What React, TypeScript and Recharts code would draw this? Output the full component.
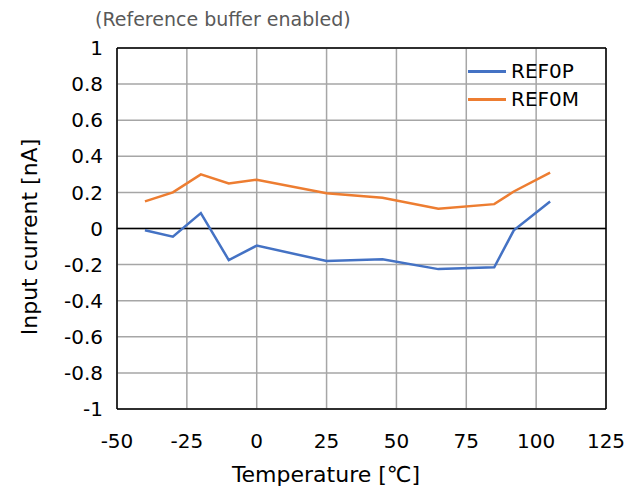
import React from "react";
import {
  LineChart,
  Line,
  XAxis,
  YAxis,
  CartesianGrid,
  ReferenceLine,
} from "recharts";

const temps = [-40, -30, -20, -10, 0, 25, 45, 65, 85, 92, 105];
const ref0p = [-0.01, -0.045, 0.085, -0.175, -0.095, -0.18, -0.17, -0.225, -0.215, -0.01, 0.15];
const ref0m = [0.15, 0.2, 0.3, 0.25, 0.27, 0.195, 0.17, 0.11, 0.135, 0.205, 0.31];

const xTicks = [-50, -25, 0, 25, 50, 75, 100, 125];
const yTicks = [-1, -0.8, -0.6, -0.4, -0.2, 0, 0.2, 0.4, 0.6, 0.8, 1];

const data = temps.map((t, i) => ({ t, REF0P: ref0p[i], REF0M: ref0m[i] }));

const FONT = "'DejaVu Sans', Verdana, sans-serif";
const BLUE = "#4472C4";
const ORANGE = "#ED7D31";

const series = [
  { name: "REF0P", color: BLUE },
  { name: "REF0M", color: ORANGE },
];

// legend sits inside the plot, top right
const LegendBox = () => (
  <div
    style={{
      position: "absolute",
      left: 468,
      top: 57,
      fontFamily: FONT,
      fontSize: 20,
      color: "#000",
      lineHeight: "28px",
    }}
  >
    {series.map((s) => (
      <div key={s.name} style={{ display: "flex", alignItems: "center" }}>
        <span style={{ display: "inline-block", width: 38, height: 3, background: s.color, marginRight: 5 }} />
        {s.name}
      </div>
    ))}
  </div>
);

export default function App() {
  return (
    <div style={{ position: "absolute", left: 0, top: 0, width: 641, height: 489, background: "#fff" }}>
      <LineChart
        width={641}
        height={489}
        data={data}
        margin={{ top: 48, right: 35, left: 0, bottom: 0 }}
      >
        <text x={95} y={26} fontFamily={FONT} fontSize={19} fill="#595959">
          (Reference buffer enabled)
        </text>
        {/* axis titles are centred on the whole chart, not the plot */}
        <text x={326} y={482} textAnchor="middle" fontFamily={FONT} fontSize={22} fill="#000">
          Temperature [℃]
        </text>
        <text
          x={37}
          y={237}
          textAnchor="middle"
          transform="rotate(-90 37 237)"
          fontFamily={FONT}
          fontSize={22}
          fill="#000"
        >
          Input current [nA]
        </text>
        <CartesianGrid stroke="#a6a6a6" strokeWidth={1.5} />
        <XAxis
          type="number"
          dataKey="t"
          domain={[-50, 125]}
          ticks={xTicks}
          interval={0}
          tickSize={0}
          tickMargin={25}
          height={80}
          stroke="#000"
          strokeWidth={1.5}
          tick={{ fill: "#000", fontFamily: FONT, fontSize: 20 }}
        />
        <YAxis
          type="number"
          domain={[-1, 1]}
          ticks={yTicks}
          interval={0}
          width={117}
          tickSize={0}
          tickMargin={14}
          stroke="#000"
          strokeWidth={1.5}
          tickFormatter={(v: number) => String(Number(v.toFixed(1)))}
          tick={{ fill: "#000", fontFamily: FONT, fontSize: 20 }}
        />
        <ReferenceLine y={0} stroke="#000" strokeWidth={1.5} />
        <ReferenceLine y={1} stroke="#000" strokeWidth={1.5} />
        <ReferenceLine x={125} stroke="#000" strokeWidth={1.5} />
        <Line
          type="linear"
          dataKey="REF0P"
          stroke={BLUE}
          strokeWidth={2.5}
          dot={false}
          isAnimationActive={false}
        />
        <Line
          type="linear"
          dataKey="REF0M"
          stroke={ORANGE}
          strokeWidth={2.5}
          dot={false}
          isAnimationActive={false}
        />
      </LineChart>
      <LegendBox />
    </div>
  );
}
